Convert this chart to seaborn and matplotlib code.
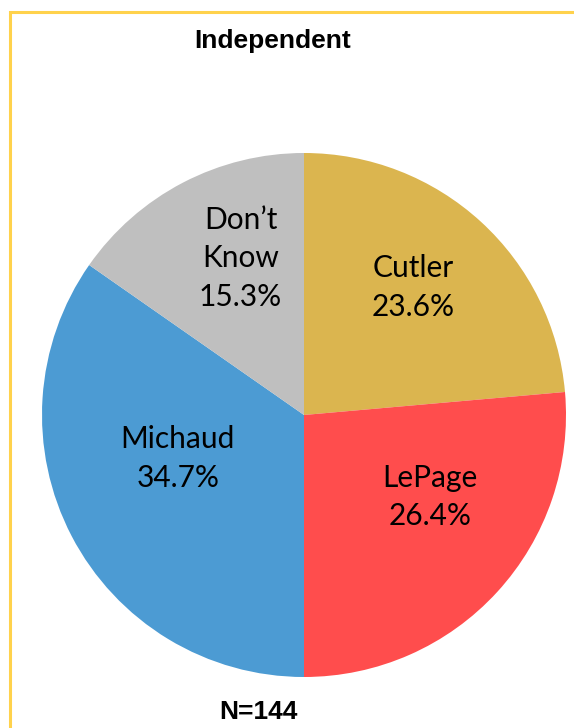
import matplotlib
matplotlib.use("Agg")
import matplotlib.pyplot as plt
from matplotlib.patches import Rectangle
import numpy as np
import seaborn as sns

# Data
categories = ["Cutler", "LePage", "Michaud", "Don\u2019t\nKnow"]
shares = [23.6, 26.4, 34.7, 15.3]
slice_colors = ["#DBB54F", "#FF4D4D", "#4C9BD3", "#BFBFBF"]
title = "Independent"
footnote = "N=144"

# Label placement (radius fraction, nudge in degrees) relative to each wedge's mid-angle
label_layout = [(0.64, 2.0), (0.575, 9.5), (0.51, -8.5), (0.645, -5.5)]

sns.set_theme(style="white")
plt.rcParams["font.family"] = ["Lato", "DejaVu Sans"]

fig = plt.figure(figsize=(5.74, 7.28), dpi=100)
W, H = 574, 728

# yellow frame, running off the right and bottom edges
fig.patches.append(Rectangle((10 / W, -0.1), 1.2, (H - 12) / H + 0.1,
                             transform=fig.transFigure, fill=False,
                             edgecolor="#FFD24C", linewidth=2.2))

ax = fig.add_axes([42 / W, (H - 677) / H, 524 / W, 524 / H])
wedges, _ = ax.pie(shares, colors=slice_colors, startangle=90, counterclock=False,
                   radius=1.0, wedgeprops=dict(linewidth=0))
ax.set_xlim(-1, 1)
ax.set_ylim(-1, 1)
ax.set_aspect("equal")
ax.axis("off")

for w, name, val, (r, nudge) in zip(wedges, categories, shares, label_layout):
    ang = np.deg2rad((w.theta1 + w.theta2) / 2 + nudge)
    ax.text(r * np.cos(ang), r * np.sin(ang), f"{name}\n{val:.1f}%",
            ha="center", va="center", fontsize=21.5, color="black",
            linespacing=1.45)

fig.text(273 / W, 1 - 41 / H, title, ha="center", va="center", color="black",
         fontsize=19, fontweight="bold", family="Liberation Sans")
fig.text(258 / W, 1 - 712 / H, footnote, ha="center", va="center", color="black",
         fontsize=19, fontweight="bold", family="Liberation Sans")

fig.savefig("out.png", dpi=100)
